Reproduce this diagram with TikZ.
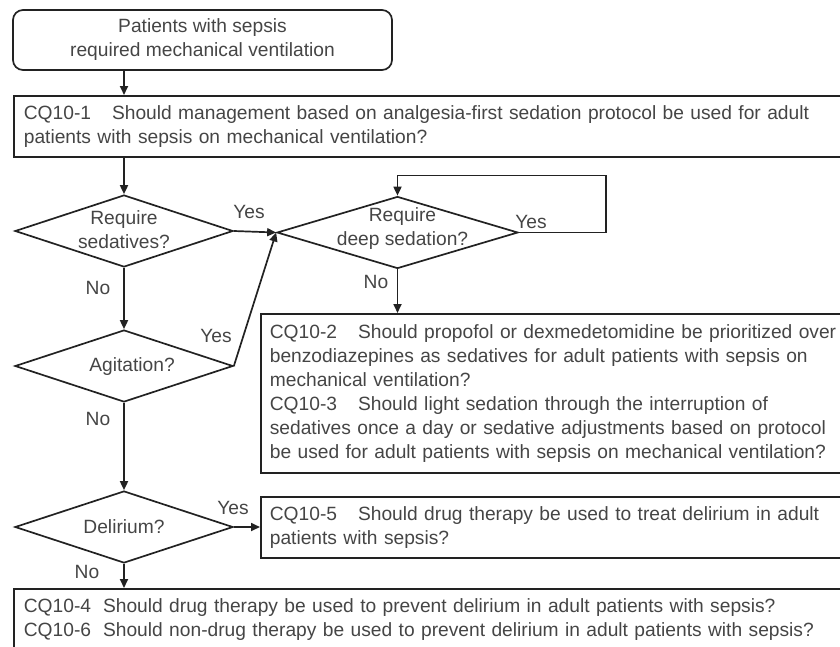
\documentclass[tikz,border=0pt]{standalone}
\usepackage{fontspec}
\setmainfont{Liberation Sans}
\usetikzlibrary{shapes.geometric,arrows.meta}
\definecolor{ln}{HTML}{222222}
\definecolor{tx}{HTML}{454545}
\begin{document}
\begin{tikzpicture}[x=1pt,y=-1pt,
  every node/.style={font=\fontsize{19.2}{24}\selectfont, text=tx},
  box/.style={draw=ln, line width=1.7pt, rectangle, anchor=north west, align=left, inner ysep=0pt, inner xsep=10pt},
  startbox/.style={draw=ln, line width=1.7pt, rounded corners=10pt, align=center, inner sep=0pt},
  dia/.style={draw=ln, line width=1.7pt, diamond, inner sep=0pt},
  dtext/.style={align=center, inner sep=0pt},
  arr/.style={draw=ln, line width=1.7pt, -{Triangle[length=9pt,width=8pt]}},
  lab/.style={inner sep=0pt},
]
\useasboundingbox (0,0) rectangle (840,646);

% boxes
\node[startbox, minimum width=379pt, minimum height=60pt] (start) at (202.5,40)
  {Patients with sepsis\\required mechanical ventilation};
\node[box, text width=860pt, minimum height=61pt] (q1) at (13,95)
  {CQ10-1\hspace{21pt}Should management based on analgesia-first sedation protocol be used for adult\\patients with sepsis on mechanical ventilation?};
\node[box, inner xsep=9pt, text width=620pt, minimum height=159pt] (q23) at (260,313)
  {CQ10-2\hspace{21pt}Should propofol or dexmedetomidine be prioritized over\\benzodiazepines as sedatives for adult patients with sepsis on\\mechanical ventilation?\\CQ10-3\hspace{21pt}Should light sedation through the interruption of\\sedatives once a day or sedative adjustments based on protocol\\be used for adult patients with sepsis on mechanical ventilation?};
\node[box, inner xsep=9pt, text width=620pt, minimum height=61pt] (q5) at (260,496)
  {CQ10-5\hspace{21pt}Should drug therapy be used to treat delirium in adult\\patients with sepsis?};
\node[box, text width=860pt, minimum height=62pt] (q46) at (13,588)
  {CQ10-4\hspace{12pt}Should drug therapy be used to prevent delirium in adult patients with sepsis?\\CQ10-6\hspace{12pt}Should non-drug therapy be used to prevent delirium in adult patients with sepsis?};

% diamonds
\node[dia, minimum width=218pt, minimum height=72pt] (d1) at (124,231) {};
\node[dtext, yshift=1pt] (t1) at (d1) {Require\\sedatives?};
\node[dia, minimum width=241pt, minimum height=72pt] (d2) at (397.5,232.5) {};
\node[dtext, xshift=5pt, yshift=4pt] (t2) at (d2) {Require\\deep sedation?};
\node[dia, minimum width=218pt, minimum height=72pt] (d3) at (124,366) {};
\node[dtext, xshift=8pt, yshift=-1pt] (t3) at (d3) {Agitation?};
\node[dia, minimum width=218pt, minimum height=72pt] (d4) at (124,527) {};
\node[dtext] (t4) at (d4) {Delirium?};

% labels
\node[lab] (y1) at (249,212) {Yes};
\node[lab] (n1) at (98,288) {No};
\node[lab] (y3) at (216,336) {Yes};
\node[lab] (n3) at (98,419) {No};
\node[lab] (y2) at (531,222) {Yes};
\node[lab] (n2) at (376,282) {No};
\node[lab] (y4) at (233,508) {Yes};
\node[lab] (n4) at (87,572) {No};

% connectors
\draw[arr] (d1 |- start.south) -- (d1 |- q1.north);
\draw[arr] (d1 |- q1.south) -- (d1.north);
\draw[arr] (d1.east) -- (d2.west);
\draw[arr] (d3.east) -- (d2.west);
\draw[arr] (d2.east) -- ++(87,0) -- ++(0,-57) -| (d2.north);
\draw[arr] (d2.south) -- (d2.south |- q23.north);
\draw[arr] (d1.south) -- (d3.north);
\draw[arr] (d3.south) -- (d4.north);
\draw[arr] (d4.east) -- (d4.east -| q5.west);
\draw[arr] (d4.south) -- (d4.south |- q46.north);
\end{tikzpicture}
\end{document}
